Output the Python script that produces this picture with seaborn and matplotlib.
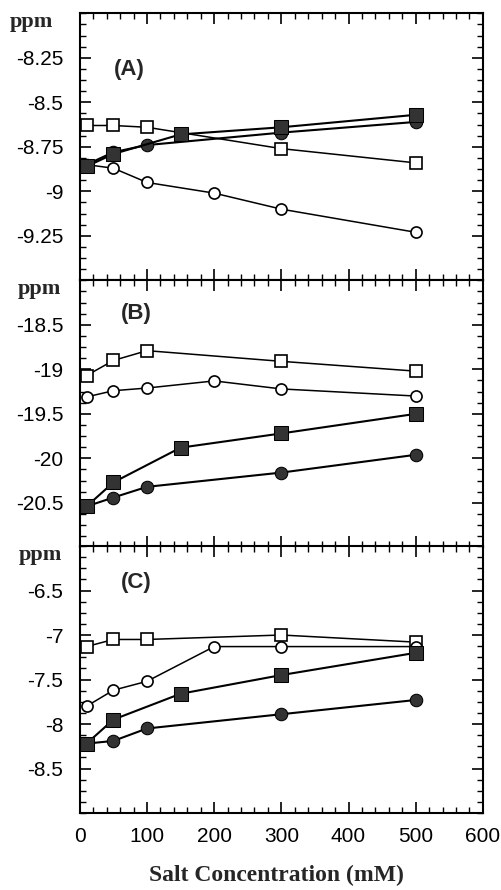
import matplotlib
matplotlib.use("Agg")
import matplotlib.pyplot as plt
import seaborn as sns
from matplotlib.ticker import MultipleLocator, AutoMinorLocator

sns.set_style("ticks")
plt.rcParams['font.family'] = ['Liberation Sans', 'DejaVu Sans']

# salt concentrations (mM) per series
x_open_sq = [10, 50, 100, 300, 500]
x_open_ci = [10, 50, 100, 200, 300, 500]
x_fill_sq = [10, 50, 150, 300, 500]
x_fill_ci = [10, 50, 100, 300, 500]

# panel A (ppm)
a_open_sq = [-8.63, -8.63, -8.64, -8.76, -8.84]
a_open_ci = [-8.85, -8.87, -8.95, -9.01, -9.10, -9.23]
a_fill_sq = [-8.86, -8.79, -8.68, -8.64, -8.57]
a_fill_ci = [-8.85, -8.78, -8.74, -8.67, -8.61]

# panel B (ppm)
b_open_sq = [-19.07, -18.90, -18.79, -18.91, -19.02]
b_open_ci = [-19.31, -19.24, -19.21, -19.13, -19.22, -19.30]
b_fill_sq = [-20.54, -20.27, -19.88, -19.72, -19.50]
b_fill_ci = [-20.54, -20.44, -20.32, -20.16, -19.96]

# panel C (ppm)
c_open_sq = [-7.13, -7.05, -7.05, -7.00, -7.08]
c_open_ci = [-7.80, -7.62, -7.52, -7.13, -7.13, -7.13]
c_fill_sq = [-8.22, -7.95, -7.66, -7.45, -7.20]
c_fill_ci = [-8.22, -8.19, -8.05, -7.89, -7.73]

panels = [
    ("(A)", a_open_sq, a_open_ci, a_fill_sq, a_fill_ci, (-9.5, -8.0), ["-8.25", "-8.5", "-8.75", "-9", "-9.25"], [-8.25, -8.5, -8.75, -9.0, -9.25], (0.124, 0.79), 0.063),
    ("(B)", b_open_sq, b_open_ci, b_fill_sq, b_fill_ci, (-21.0, -18.0), ["-18.5", "-19", "-19.5", "-20", "-20.5"], [-18.5, -19.0, -19.5, -20.0, -20.5], (0.14, 0.876), 0.078),
    ("(C)", c_open_sq, c_open_ci, c_fill_sq, c_fill_ci, (-9.0, -6.0), ["-6.5", "-7", "-7.5", "-8", "-8.5"], [-6.5, -7.0, -7.5, -8.0, -8.5], (0.14, 0.865), 0.08),
]

fig = plt.figure(figsize=(5.02, 8.9), dpi=100)
bottoms = [0.685, 0.385, 0.0865]
height = 0.30

for i, (lab, osq, oci, fsq, fci, ylim, ytl, ytv, labpos, ppm_x) in enumerate(panels):
    ax = fig.add_axes([0.159, bottoms[i], 0.803, height])
    sns.lineplot(x=x_open_sq, y=osq, ax=ax, color="black", lw=1.1, marker="s",
                 markersize=8, markerfacecolor="white", markeredgecolor="black", markeredgewidth=1.2)
    sns.lineplot(x=x_open_ci, y=oci, ax=ax, color="black", lw=1.1, marker="o",
                 markersize=8, markerfacecolor="white", markeredgecolor="black", markeredgewidth=1.2)
    sns.lineplot(x=x_fill_ci, y=fci, ax=ax, color="black", lw=1.5, marker="o",
                 markersize=9, markerfacecolor="#333333", markeredgecolor="black")
    sns.lineplot(x=x_fill_sq, y=fsq, ax=ax, color="black", lw=1.5, marker="s",
                 markersize=10, markerfacecolor="#333333", markeredgecolor="black")
    ax.set_xlim(0, 600)
    ax.set_ylim(*ylim)
    ax.xaxis.set_major_locator(MultipleLocator(100))
    ax.xaxis.set_minor_locator(MultipleLocator(20))
    ax.set_yticks(ytv)
    ax.set_yticklabels(ytl)
    ax.yaxis.set_minor_locator(AutoMinorLocator(4))
    ax.tick_params(which="both", direction="in", top=True, right=True, colors="black")
    ax.tick_params(which="major", length=8, width=1.2, labelsize=15)
    ax.tick_params(axis="y", which="major", pad=12)
    ax.tick_params(axis="x", which="major", pad=10)
    ax.tick_params(which="minor", length=4, width=1.0)
    for s in ax.spines.values():
        s.set_linewidth(1.5)
        s.set_color("black")
    if i < 2:
        ax.tick_params(labelbottom=False)
    ax.text(labpos[0], labpos[1], lab, transform=ax.transAxes, fontsize=16,
            fontweight="bold", ha="center", va="center")
    fig.text(ppm_x, bottoms[i] + height - 0.01, "ppm", fontsize=16,
             fontweight="bold", family="Liberation Serif", ha="center", va="center")
    ax.set_xlabel("")
    ax.set_ylabel("")

fig.text(0.55, 0.016, "Salt Concentration (mM)", fontsize=17, fontweight="bold",
         family="Liberation Serif", ha="center", va="center")

fig.savefig("out.png", dpi=100)
